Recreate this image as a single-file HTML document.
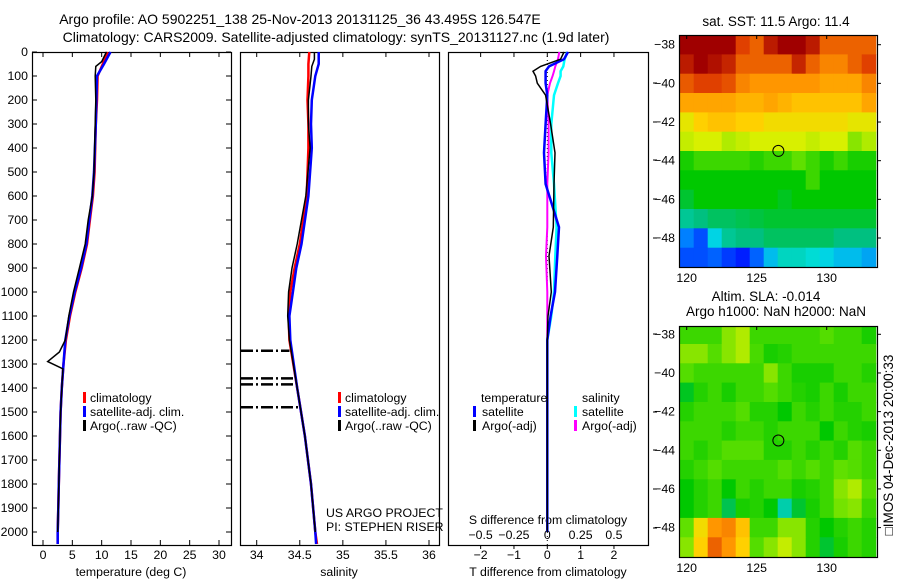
<!DOCTYPE html>
<html><head><meta charset="utf-8"><style>
body{margin:0;background:#fff}
svg{display:block;font-family:"Liberation Sans",sans-serif;font-size:12.3px}
.big{font-size:14px}
.mid{font-size:13.5px}
</style></head><body>
<svg id="fig" width="900" height="580" viewBox="0 0 900 580" xmlns="http://www.w3.org/2000/svg">
<rect width="900" height="580" fill="#fff"/>
<text class="big" x="300" y="24" text-anchor="middle">Argo profile: AO 5902251_138 25-Nov-2013 20131125_36 43.495S 126.547E</text>
<text class="big" x="336" y="42" text-anchor="middle">Climatology: CARS2009. Satellite-adjusted climatology: synTS_20131127.nc (1.9d later)</text>
<g id="g"></g>
</svg>
<script>
// ---- data ----
const depthT = [0,50,100,200,300,500,600,700,800,900,1000,1100,1200,1300,1400,1500,1600,1700,1800,1900,2000,2050];
const tempClim = [11.0,10.2,9.3,9.2,9.0,8.8,8.5,8.0,7.5,6.6,5.5,4.6,3.9,3.5,3.2,3.0,2.9,2.8,2.7,2.6,2.5,2.5];
const tempSat  = [11.5,10.4,9.2,9.1,9.0,8.7,8.4,7.9,7.4,6.5,5.4,4.5,3.8,3.5,3.2,3.0,2.9,2.8,2.7,2.6,2.5,2.5];
const depthTA = [0,40,60,100,200,300,500,600,700,800,900,1000,1100,1200,1250,1290,1320,1400,1500,1600,1700,1800,1900,2000];
const tempArgo = [10.8,10.0,9.0,8.9,9.0,8.9,8.7,8.4,7.7,7.2,6.2,5.2,4.4,3.8,2.8,0.8,3.4,3.2,3.0,2.9,2.8,2.7,2.6,2.5];
const depthS = [0,50,100,200,300,400,600,800,900,1000,1100,1200,1400,1600,1800,2000,2050];
const salClim = [34.61,34.6,34.6,34.59,34.6,34.6,34.58,34.5,34.44,34.39,34.37,34.38,34.47,34.56,34.63,34.68,34.70];
const salSat  = [34.72,34.72,34.68,34.64,34.63,34.64,34.6,34.52,34.46,34.42,34.38,34.39,34.47,34.56,34.63,34.68,34.69];
const depthSA = [0,30,60,100,200,300,400,600,800,900,1000,1100,1200,1400,1600,1800,2000];
const salArgo = [34.67,34.67,34.64,34.63,34.6,34.6,34.62,34.57,34.47,34.41,34.37,34.36,34.38,34.47,34.56,34.63,34.68];
const spikeDepths = [1245,1360,1385,1480];
const spikeSal = [34.38,34.44,34.45,34.5];
const depthD = [0,30,60,80,100,130,180,300,420,550,730,850,1000,1100,1200,1400,1700,2000];
const dTsat  = [0.62,0.5,0.05,-0.05,-0.05,-0.05,0.0,-0.05,-0.1,-0.05,0.35,0.3,0.23,0.1,0.0,0.0,0.0,0.0];
const dTargo = [0.5,0.4,-0.2,-0.43,-0.35,-0.3,-0.05,0.1,0.23,0.2,0.18,0.05,0.12,0.02,0.0,0.0,0.0,0.0];
const dSsat  = [0.15,0.13,0.12,0.1,0.1,0.08,0.05,0.03,0.03,0.05,0.07,0.06,0.05,0.03,0.0,0.0,0.0,0.0];
const dSargo = [0.09,0.08,0.06,0.05,0.04,0.02,0.0,0.01,0.01,0.0,0.0,-0.01,0.0,0.0,0.0,0.0,0.0,0.0];
const depthTicks = [0,100,200,300,400,500,600,700,800,900,1000,1100,1200,1300,1400,1500,1600,1700,1800,1900,2000];
const tTicks = [0,5,10,15,20,25,30];
const sTicks = [34,34.5,35,35.5,36];
const sTickLabels = ['34','34.5','35','35.5','36'];
const dTTicks = [-2,-1,0,1,2];
const dSTicks = [-0.5,-0.25,0,0.25,0.5];
const dSTickLabels = ['\u22120.5','\u22120.25','0','0.25','0.5'];
const latTicks = [-38,-40,-42,-44,-46,-48];
const lonTicks = [120,125,130];
const sstGrid = [
[1,1,1,1,0.88,0.84,0.95,1,1,0.95,0.84,0.84,0.84,0.84],
[0.95,1,0.97,0.93,0.84,0.84,0.84,0.84,0.93,0.84,0.8,0.8,0.84,0.88],
[0.85,0.88,0.88,0.86,0.8,0.78,0.78,0.78,0.78,0.78,0.76,0.76,0.76,0.8],
[0.76,0.76,0.76,0.76,0.74,0.74,0.76,0.74,0.72,0.72,0.72,0.72,0.72,0.76],
[0.66,0.7,0.72,0.72,0.7,0.7,0.68,0.68,0.68,0.68,0.68,0.68,0.66,0.66],
[0.63,0.64,0.64,0.62,0.63,0.64,0.64,0.64,0.64,0.63,0.64,0.64,0.6,0.62],
[0.52,0.55,0.55,0.55,0.55,0.53,0.55,0.55,0.58,0.55,0.52,0.55,0.52,0.52],
[0.5,0.5,0.5,0.5,0.5,0.5,0.5,0.5,0.5,0.55,0.5,0.5,0.5,0.5],
[0.47,0.5,0.5,0.5,0.5,0.5,0.5,0.48,0.5,0.5,0.5,0.5,0.5,0.5],
[0.4,0.42,0.44,0.44,0.45,0.46,0.47,0.47,0.47,0.47,0.47,0.47,0.47,0.47],
[0.25,0.2,0.32,0.4,0.42,0.42,0.44,0.44,0.44,0.44,0.44,0.42,0.42,0.42],
[0.2,0.2,0.22,0.18,0.15,0.22,0.3,0.36,0.36,0.34,0.32,0.3,0.3,0.28]];
const slaGrid = [
[0.55,0.55,0.55,0.6,0.62,0.55,0.55,0.55,0.55,0.55,0.57,0.55,0.55,0.52],
[0.6,0.6,0.57,0.6,0.62,0.56,0.52,0.53,0.55,0.55,0.55,0.55,0.55,0.55],
[0.57,0.55,0.55,0.55,0.55,0.55,0.6,0.55,0.52,0.52,0.52,0.55,0.55,0.53],
[0.48,0.53,0.55,0.52,0.55,0.55,0.57,0.55,0.53,0.52,0.55,0.52,0.55,0.55],
[0.53,0.55,0.55,0.55,0.57,0.53,0.53,0.5,0.55,0.53,0.55,0.53,0.53,0.55],
[0.55,0.55,0.55,0.53,0.55,0.55,0.53,0.55,0.55,0.55,0.5,0.55,0.53,0.52],
[0.55,0.53,0.55,0.57,0.57,0.57,0.53,0.53,0.55,0.53,0.55,0.53,0.57,0.55],
[0.53,0.55,0.57,0.55,0.55,0.55,0.55,0.57,0.55,0.57,0.55,0.58,0.57,0.55],
[0.5,0.53,0.55,0.5,0.55,0.53,0.55,0.55,0.52,0.53,0.55,0.6,0.62,0.57],
[0.5,0.53,0.55,0.45,0.52,0.53,0.5,0.38,0.47,0.52,0.55,0.59,0.6,0.55],
[0.58,0.68,0.78,0.8,0.72,0.55,0.55,0.6,0.6,0.53,0.5,0.53,0.55,0.53],
[0.6,0.7,0.84,0.78,0.7,0.57,0.6,0.63,0.6,0.53,0.47,0.52,0.55,0.53]];
const argoLon = 126.547, argoLat = -43.495;

// ---- helpers ----
const NS='http://www.w3.org/2000/svg';
const G=document.getElementById('g');
function mk(tag,attrs,parent){const e=document.createElementNS(NS,tag);for(const k in attrs)e.setAttribute(k,attrs[k]);(parent||G).appendChild(e);return e;}
const yD = d => 52 + d*0.24;
const xT = t => 43 + t*5.8667;
const xS = s => 256.7 + (s-34)*86.15;
const xdT = t => 547.3 + t*33.33;
const xdS = s => 547.3 + s*133.3;
function line(xs,ys,fx,fy,color,w,name){
  const pts=xs.map((v,i)=>fx(v).toFixed(1)+','+fy(ys[i]).toFixed(1)).join(' ');
  const p=mk('polyline',{points:pts,fill:'none',stroke:color,'stroke-width':w});
  
  
}
function txt(x,y,s,anchor,name){const t=mk('text',{x:x,y:y,'text-anchor':anchor||'start'});t.textContent=s;
  
  return t;}
function seg(x1,y1,x2,y2,name,extra){const l=mk('line',Object.assign({x1:x1,y1:y1,x2:x2,y2:y2,stroke:'#000','stroke-width':1},extra||{}));
  
  return l;}
function box(x,y,w,h,name){const r=mk('rect',{x:x+.5,y:y+.5,width:w,height:h,fill:'none',stroke:'#000','stroke-width':1.2});
  
  }
function legendMark(x,y,color,name){const r=mk('rect',{x:x,y:y-10,width:3,height:11,fill:color});
  
  }

// ---- panel frames ----
box(32,52,199,493,'temperature-panel-frame');
box(240,52,199,493,'salinity-panel-frame');
box(448,52,200,493,'difference-panel-frame');

depthTicks.forEach(d=>{
  txt(28,yD(d)+4,String(d),'end','depth-tick-label');
  seg(32,yD(d),37,yD(d),'depth-tick-left');
  seg(226,yD(d),231,yD(d),'depth-tick-right');
});
tTicks.forEach(t=>{
  txt(xT(t),559,String(t),'middle','temperature-tick-label');
  seg(xT(t),545,xT(t),540,'temperature-tick-bottom');
  seg(xT(t),52,xT(t),57,'temperature-tick-top');
});
txt(131,576,'temperature (deg C)','middle','temperature-axis-title');
sTicks.forEach((s,i)=>{
  txt(xS(s),559,sTickLabels[i],'middle','salinity-tick-label');
  seg(xS(s),545,xS(s),540,'salinity-tick-bottom');
  seg(xS(s),52,xS(s),57,'salinity-tick-top');
});
txt(339,576,'salinity','middle','salinity-axis-title');
dTTicks.forEach(t=>{
  txt(xdT(t),559,t<0?'\u2212'+Math.abs(t):String(t),'middle','t-diff-tick-label');
  seg(xdT(t),545,xdT(t),549,'t-diff-tick-bottom');
  seg(xdT(t),52,xdT(t),57,'t-diff-tick-top');
});
dSTicks.forEach((s,i)=>{
  txt(xdS(s),539,dSTickLabels[i],'middle','s-diff-tick-label');
});
txt(548,524,'S difference from climatology','middle','s-diff-axis-title');
txt(548,576,'T difference from climatology','middle','t-diff-axis-title');
[83,122,160,199,238,334,412,450,489,528].forEach(y=>seg(653,y,657,y,'right-tick'));

line(tempClim,depthT,xT,yD,'#ff0000',2.5,'temperature-climatology-line');
line(tempSat,depthT,xT,yD,'#0000ff',2.5,'temperature-satellite-line');
line(tempArgo,depthTA,xT,yD,'#000000',1.5,'temperature-argo-line');
legendMark(83,402,'#ff0000','legend-climatology-marker');txt(90,402,'climatology','start','legend-climatology');
legendMark(83,416,'#0000ff','legend-satellite-marker');txt(90,416,'satellite-adj. clim.','start','legend-satellite');
legendMark(83,430,'#000','legend-argo-marker');txt(90,430,'Argo(..raw -QC)','start','legend-argo');

line(salClim,depthS,xS,yD,'#ff0000',2.5,'salinity-climatology-line');
line(salSat,depthS,xS,yD,'#0000ff',2.5,'salinity-satellite-line');
line(salArgo,depthSA,xS,yD,'#000000',1.5,'salinity-argo-line');
spikeDepths.forEach((d,i)=>{
  seg(241,yD(d),xS(spikeSal[i]),yD(d),'salinity-spike',{'stroke-width':2.5,'stroke-dasharray':'12,3,2,3'});
});
legendMark(338,402,'#ff0000','legend2-climatology-marker');txt(345,402,'climatology','start','legend2-climatology');
legendMark(338,416,'#0000ff','legend2-satellite-marker');txt(345,416,'satellite-adj. clim.','start','legend2-satellite');
legendMark(338,430,'#000','legend2-argo-marker');txt(345,430,'Argo(..raw -QC)','start','legend2-argo');
txt(326,517,'US ARGO PROJECT','start','project-label');
txt(326,531,'PI: STEPHEN RISER','start','pi-label');

seg(547.3,52,547.3,545,'zero-line',{'stroke-dasharray':'1,3'});
line(dSsat,depthD,xdS,yD,'#00ffff',2.5,'s-diff-satellite-line');
line(dSargo,depthD,xdS,yD,'#ff00ff',2,'s-diff-argo-line');
line(dTsat,depthD,xdT,yD,'#0000ff',2.5,'t-diff-satellite-line');
line(dTargo,depthD,xdT,yD,'#000000',1.5,'t-diff-argo-line');
txt(481,402,'temperature','start','legend3-temperature-header');
txt(582,402,'salinity','start','legend3-salinity-header');
legendMark(473,416,'#0000ff','legend3-t-sat-marker');txt(482,416,'satellite','start','legend3-t-sat');
legendMark(473,430,'#000','legend3-t-argo-marker');txt(482,430,'Argo(-adj)','start','legend3-t-argo');
legendMark(574,416,'#00ffff','legend3-s-sat-marker');txt(582,416,'satellite','start','legend3-s-sat');
legendMark(574,430,'#ff00ff','legend3-s-argo-marker');txt(582,430,'Argo(-adj)','start','legend3-s-argo');

// ---- maps ----
const stops=[[0,[0,0,143]],[0.12,[0,0,255]],[0.25,[0,128,255]],[0.33,[0,224,224]],[0.42,[0,192,128]],[0.5,[0,200,0]],[0.58,[96,224,0]],[0.64,[216,240,0]],[0.7,[255,208,0]],[0.78,[255,150,0]],[0.88,[224,64,0]],[1,[160,0,0]]];
function cmap(v){for(let i=1;i<stops.length;i++){if(v<=stops[i][0]){const a=stops[i-1],b=stops[i];const f=(v-a[0])/(b[0]-a[0]);return 'rgb('+a[1].map((c,k)=>Math.round(c+(b[1][k]-c)*f)).join(',')+')';}}return 'rgb(160,0,0)';}
function drawMap(grid,top,bottom,y38,name){
  const xL=lon=>686.7+(lon-120)*14;
  const yL=lat=>y38+(-38-lat)*19.33;
  const cid='clip-'+name;
  const cp=mk('clipPath',{id:cid});mk('rect',{x:679,y:top,width:198,height:bottom-top},cp);
  const grp=mk('g',{'clip-path':'url(#'+cid+')'});
  
  
  grid.forEach((row,i)=>row.forEach((v,j)=>{
    const lon0=119.5+j, lat0=-37.5-i;
    const r=mk('rect',{x:xL(lon0).toFixed(1),y:yL(lat0).toFixed(1),width:14.6,height:19.9,fill:cmap(v)},grp);
    
    
  }));
  box(679,top,198,bottom-top,name+'-frame');
  latTicks.forEach(l=>{txt(675,yL(l)+4,'\u2212'+Math.abs(l),'end',name+'-lat-label');
    seg(877,yL(l),881,yL(l),name+'-lat-tick');});
  lonTicks.forEach(l=>{txt(xL(l),bottom+15,String(l),'middle',name+'-lon-label');
    seg(xL(l),top,xL(l),top+4,name+'-lon-tick');});
  const c=mk('circle',{cx:xL(argoLon),cy:yL(argoLat),r:5.5,fill:'none',stroke:'#000','stroke-width':1});
  
  
}
drawMap(sstGrid,35,267,44.7,'sst-map');
txt(776,26,'sat. SST: 11.5 Argo: 11.4','middle','sst-map-title').setAttribute('class','mid');
drawMap(slaGrid,326,557,334.3,'sla-map');
txt(766,301,'Altim. SLA: -0.014','middle','sla-map-title').setAttribute('class','mid');
txt(776,316,'Argo h1000: NaN h2000: NaN','middle','sla-map-subtitle').setAttribute('class','mid');
const rt=txt(0,0,'\u25A1IMOS 04-Dec-2013 20:00:33','middle','timestamp-label');
rt.setAttribute('class','mid');
rt.setAttribute('transform','translate(893,445) rotate(-90)');
</script>
</body></html>
